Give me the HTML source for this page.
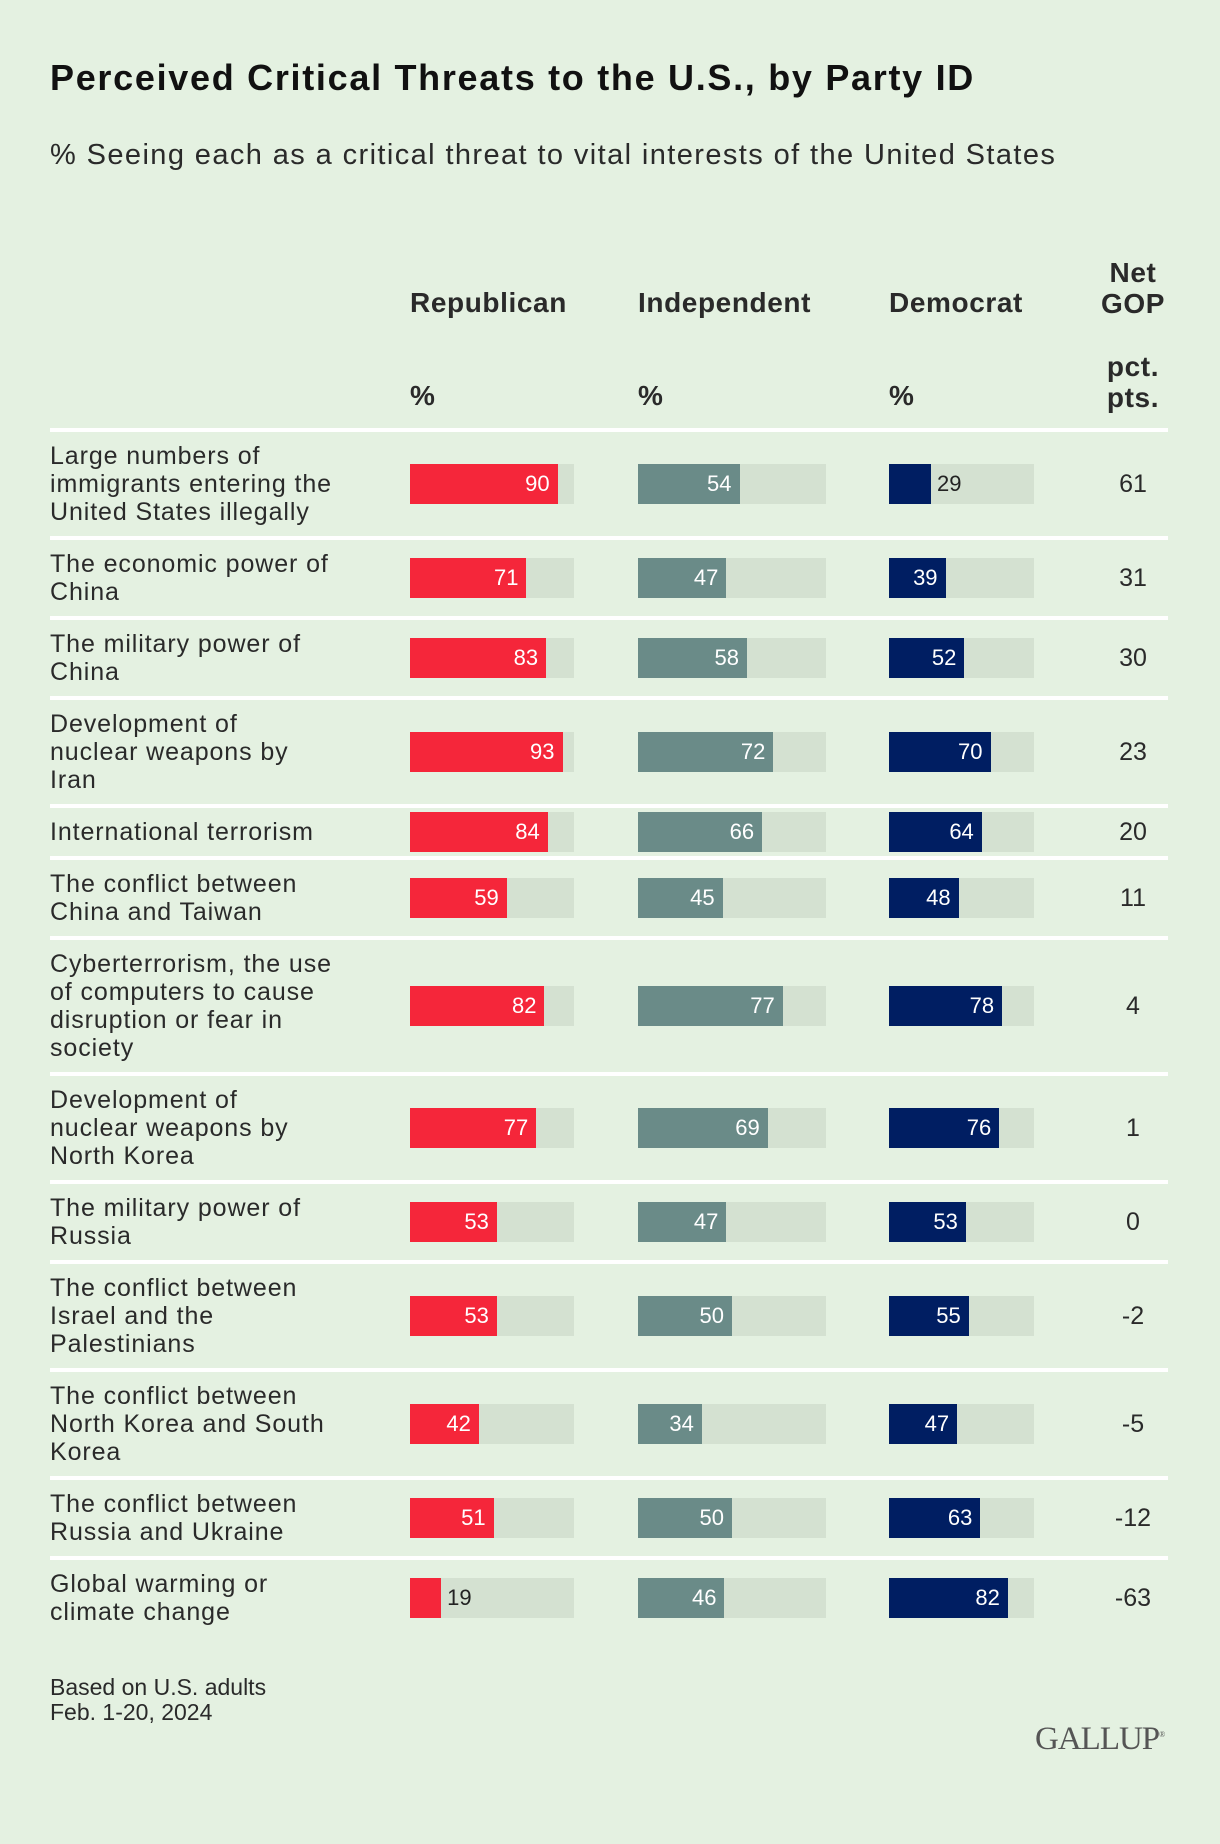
<!DOCTYPE html>
<html><head><meta charset="utf-8"><style>
body{margin:0;background:#e4f1e1;font-family:"Liberation Sans",sans-serif;color:#222}
#root{position:relative;width:1220px;height:1844px;overflow:hidden;background:#e4f1e1}
.t{position:absolute;white-space:nowrap}
.h{font-weight:bold;font-size:28px;color:#2a2a2a;letter-spacing:0.6px}
.lbl{position:absolute;left:50px;font-size:25px;line-height:28px;color:#2a2a2a;transform:translateY(-50%);letter-spacing:0.9px;white-space:nowrap}
.sep{position:absolute;left:50px;width:1118px;height:4px;background:#fff}
.bar{position:absolute;height:40px}
.v{position:absolute;font-size:22px;line-height:40px}
</style></head><body>
<div id="root">
<div class="t" style="left:50px;top:57px;font-size:36px;font-weight:bold;color:#111;letter-spacing:1.7px">Perceived Critical Threats to the U.S., by Party ID</div>
<div class="t" style="left:50px;top:139px;font-size:29px;color:#2a2a2a;letter-spacing:1.4px">% Seeing each as a critical threat to vital interests of the United States</div>
<div class="t h" style="left:410px;top:287px">Republican</div>
<div class="t h" style="left:638px;top:287px">Independent</div>
<div class="t h" style="left:889px;top:287px">Democrat</div>
<div class="t h" style="left:1093px;top:257px;width:80px;text-align:center;line-height:31px">Net<br>GOP</div>
<div class="t h" style="left:410px;top:380px">%</div>
<div class="t h" style="left:638px;top:380px">%</div>
<div class="t h" style="left:889px;top:380px">%</div>
<div class="t h" style="left:1093px;top:351px;width:80px;text-align:center;line-height:31px">pct.<br>pts.</div>
<div class="t" style="left:50px;top:1675px;font-size:23px;line-height:25px;color:#2a2a2a">Based on U.S. adults<br>Feb. 1-20, 2024</div>
<div class="t" style="left:1035px;top:1721px;font-family:'Liberation Serif',serif;font-size:33px;color:#555;letter-spacing:-1px">GALLUP<sup style="font-size:8px">®</sup></div>
</div>
<script>
const categories=["Large numbers of<br>immigrants entering the<br>United States illegally","The economic power of<br>China","The military power of<br>China","Development of<br>nuclear weapons by<br>Iran","International terrorism","The conflict between<br>China and Taiwan","Cyberterrorism, the use<br>of computers to cause<br>disruption or fear in<br>society","Development of<br>nuclear weapons by<br>North Korea","The military power of<br>Russia","The conflict between<br>Israel and the<br>Palestinians","The conflict between<br>North Korea and South<br>Korea","The conflict between<br>Russia and Ukraine","Global warming or<br>climate change"];
const republican=[90,71,83,93,84,59,82,77,53,53,42,51,19];
const independent=[54,47,58,72,66,45,77,69,47,50,34,50,46];
const democrat=[29,39,52,70,64,48,78,76,53,55,47,63,82];
const netGop=["61","31","30","23","20","11","4","1","0","-2","-5","-12","-63"];
const lineCounts=categories.map(c=>c.split("<br>").length);
const root=document.getElementById('root');
const cols=[{x:410,w:164,c:'#f5263a',d:republican,n:'republican'},{x:638,w:188,c:'#6a8b88',d:independent,n:'independent'},{x:889,w:145,c:'#001e62',d:democrat,n:'democrat'}];
let y=430;
for(let i=0;i<categories.length;i++){
  const h=Math.max(44,lineCounts[i]*28+24);
  const cy=y+h/2;
  const lb=document.createElement('div');lb.className='lbl';lb.style.top=cy+'px';lb.innerHTML=categories[i];
  
  
  root.appendChild(lb);
  cols.forEach(col=>{
    const tr=document.createElement('div');tr.className='bar';
    tr.style.cssText=`left:${col.x}px;top:${cy-20}px;width:${col.w}px;background:#d4e1d1`;
    
    
    root.appendChild(tr);
    const bw=col.w*col.d[i]/100;
    const b=document.createElement('div');b.className='bar';
    b.style.cssText=`left:${col.x}px;top:${cy-20}px;width:${bw}px;background:${col.c}`;
    
    
    root.appendChild(b);
    const v=document.createElement('div');v.className='v';v.textContent=col.d[i];
    if(bw<45){v.style.cssText=`left:${col.x+bw+6}px;top:${cy-20}px;color:#222`;}
    else{v.style.cssText=`left:${col.x}px;width:${bw-8}px;text-align:right;top:${cy-20}px;color:#fff`;}
    
    
    root.appendChild(v);
  });
  const n=document.createElement('div');n.className='v';n.textContent=netGop[i];
  n.style.cssText=`left:1093px;width:80px;text-align:center;top:${cy-20}px;font-size:25px;color:#2a2a2a`;
  
  
  root.appendChild(n);
  const s=document.createElement('div');s.className='sep';s.style.top=(y-2)+'px';
  
  
  root.appendChild(s);
  y+=h;
}
</script>
</body></html>
